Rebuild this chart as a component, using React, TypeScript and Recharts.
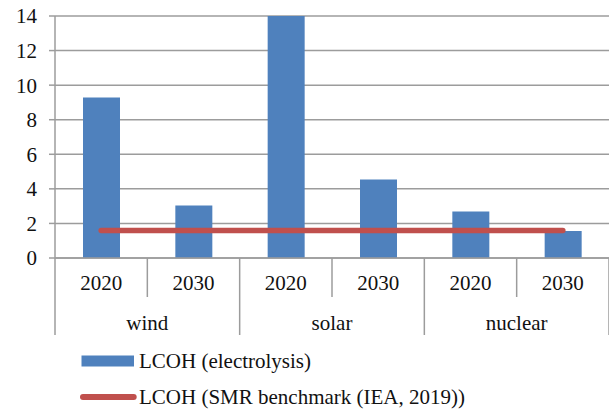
import React from 'react';
import { ComposedChart, Bar, Line, XAxis, YAxis, CartesianGrid, Legend } from 'recharts';

const years = ['2020', '2030', '2020', '2030', '2020', '2030'];
const sources = ['wind', 'wind', 'solar', 'solar', 'nuclear', 'nuclear'];
const electrolysis = [9.28, 3.03, 14.0, 4.54, 2.69, 1.56];
const smrBenchmark = [1.59, 1.59, 1.59, 1.59, 1.59, 1.59];
const yTicks = [0, 2, 4, 6, 8, 10, 12, 14];

const data = years.map((year, i) => ({
  key: `${sources[i]}-${year}`,
  year,
  source: sources[i],
  electrolysis: electrolysis[i],
  smr: smrBenchmark[i],
}));

const FONT = 'Liberation Serif';
const FONT_SIZE = 21;
const GRID = '#9c9c9c';
const BLUE = '#4f81bd';
const RED = '#c0504d';

const CHART_W = 609;
const Y_AXIS_W = 55;
const HALF_BAND = (CHART_W - Y_AXIS_W) / data.length / 2;

function YearTick(props: any) {
  const { x, y, index } = props;
  const half = HALF_BAND;
  const shortEnd = y + 39;
  const longEnd = y + 77;
  const isFirstOfGroup = index % 2 === 0;
  return (
    <g>
      <text x={x} y={y + 25} textAnchor="middle" dominantBaseline="central" style={{ fontFamily: FONT }} fontSize={FONT_SIZE} fill="#111">
        {data[index].year}
      </text>
      {index === 0 && <line x1={x - half} y1={y} x2={x - half} y2={longEnd} stroke={GRID} strokeWidth={1.5} />}
      <line x1={x + half} y1={y} x2={x + half} y2={isFirstOfGroup ? shortEnd : longEnd} stroke={GRID} strokeWidth={1.5} />
      {isFirstOfGroup && (
        <text x={x + half} y={y + 64.5} textAnchor="middle" dominantBaseline="central" style={{ fontFamily: FONT }} fontSize={FONT_SIZE} fill="#111">
          {data[index].source}
        </text>
      )}
    </g>
  );
}

function LegendContent() {
  return (
    <div style={{ fontFamily: FONT, fontSize: FONT_SIZE, color: '#111', lineHeight: '22px' }}>
      <div style={{ display: 'flex', alignItems: 'center', height: 22 }}>
        <svg width={59} height={12} style={{ flex: 'none' }}>
          <rect x={1.5} y={0.5} width={52.5} height={11} fill={BLUE} />
        </svg>
        <span style={{ whiteSpace: 'nowrap' }}>LCOH (electrolysis)</span>
      </div>
      <div style={{ display: 'flex', alignItems: 'center', height: 22, marginTop: 14.5 }}>
        <svg width={59} height={12} style={{ flex: 'none' }}>
          <line x1={3} y1={6} x2={53.7} y2={6} stroke={RED} strokeWidth={6} strokeLinecap="round" />
        </svg>
        <span style={{ whiteSpace: 'nowrap' }}>LCOH (SMR benchmark (IEA, 2019))</span>
      </div>
    </div>
  );
}

export default function App() {
  return (
    <div style={{ position: 'absolute', left: 0, top: 0, fontFamily: FONT }}>
      <ComposedChart width={CHART_W} height={412} data={data} margin={{ top: 16, right: 0, left: 0, bottom: 0 }}>
        <CartesianGrid vertical={false} stroke={GRID} strokeWidth={1.5} />
        <XAxis
          dataKey="key"
          height={154}
          axisLine={{ stroke: GRID, strokeWidth: 1.5 }}
          tickLine={false}
          tickSize={0}
          tickMargin={0}
          interval={0}
          tick={<YearTick />}
        />
        <YAxis
          width={Y_AXIS_W}
          domain={[0, 14]}
          ticks={yTicks}
          allowDataOverflow
          axisLine={{ stroke: GRID, strokeWidth: 1.5 }}
          tickLine={{ stroke: GRID, strokeWidth: 1.5 }}
          tickSize={6}
          tickMargin={12}
          tick={{ fontSize: FONT_SIZE, fill: '#111', style: { fontFamily: FONT } }}
        />
        <Legend
          layout="vertical"
          align="center"
          verticalAlign="middle"
          content={<LegendContent />}
          wrapperStyle={{ left: 80, top: 349.7, width: 'auto' }}
        />
        <Bar dataKey="electrolysis" fill={BLUE} barSize={37} isAnimationActive={false} />
        <Line dataKey="smr" stroke={RED} strokeWidth={5.5} strokeLinecap="round" dot={false} activeDot={false} isAnimationActive={false} />
      </ComposedChart>
    </div>
  );
}
